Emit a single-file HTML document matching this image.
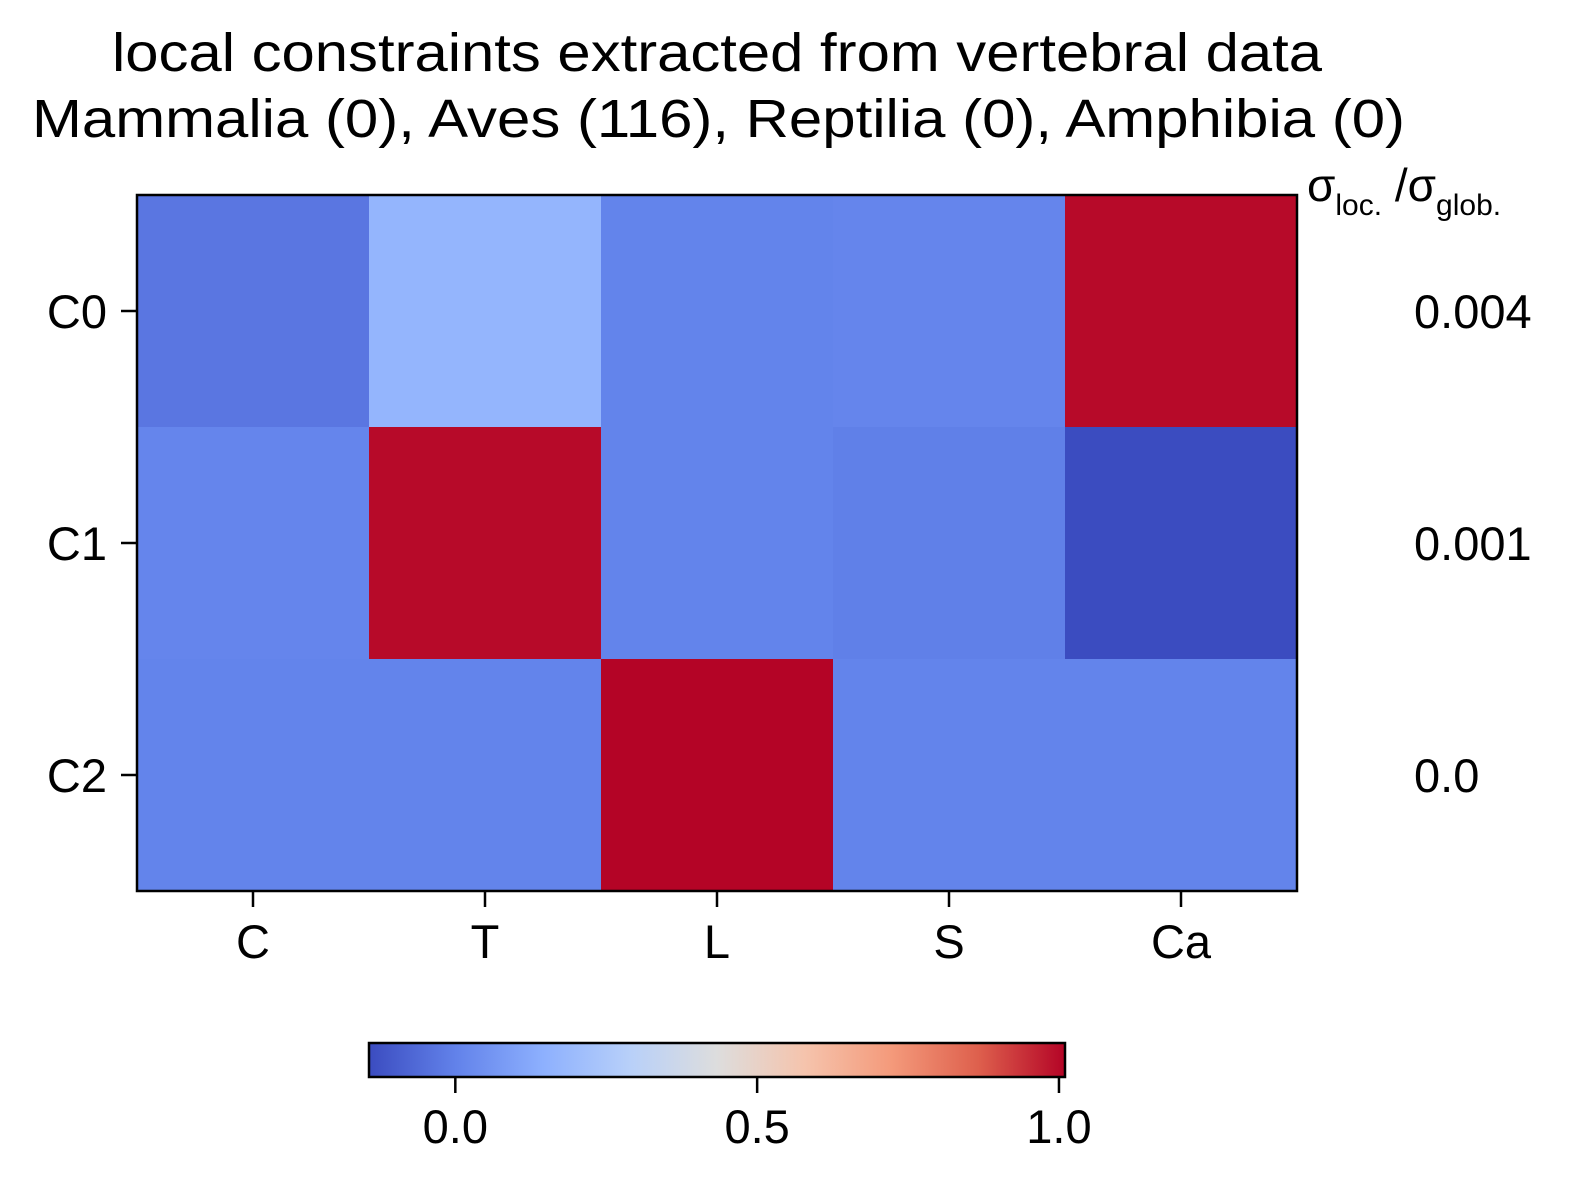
<!DOCTYPE html>
<html><head><meta charset="utf-8"><style>
body{margin:0;background:#fff}
text{font-family:"Liberation Sans",sans-serif;fill:#000}
</style></head><body>
<svg id="chart" width="1570" height="1184" xmlns="http://www.w3.org/2000/svg">
<defs>
<linearGradient id="cw" x1="0" x2="1" y1="0" y2="0">
<stop offset="0" stop-color="rgb(59,76,192)"/><stop offset="0.125" stop-color="rgb(98,130,234)"/>
<stop offset="0.25" stop-color="rgb(141,176,254)"/><stop offset="0.375" stop-color="rgb(184,208,249)"/>
<stop offset="0.5" stop-color="rgb(221,221,221)"/><stop offset="0.625" stop-color="rgb(245,196,173)"/>
<stop offset="0.75" stop-color="rgb(244,154,123)"/><stop offset="0.875" stop-color="rgb(222,96,77)"/>
<stop offset="1" stop-color="rgb(180,4,38)"/>
</linearGradient></defs>
<text x="112" y="71" font-size="54" textLength="1210" lengthAdjust="spacingAndGlyphs">local constraints extracted from vertebral data</text>
<text x="32" y="137" font-size="54" textLength="1373" lengthAdjust="spacingAndGlyphs">Mammalia (0), Aves (116), Reptilia (0), Amphibia (0)</text>
<text x="1307" y="201" font-size="46">σ<tspan font-size="30" dy="14">loc.</tspan><tspan dy="-14"> /σ</tspan><tspan font-size="30" dy="14">glob.</tspan></text>
<g id="cells"></g>
<rect x="137" y="195" width="1160" height="696" fill="none" stroke="#000" stroke-width="2.5"/>
<g id="axes"></g>
<rect x="369" y="1043" width="696" height="34" fill="url(#cw)" stroke="#000" stroke-width="2.5"/>
<g id="cbticks"></g>
</svg>
<script>
const cols = ["C","T","L","S","Ca"];
const rows = ["C0","C1","C2"];
const values = [
  [-0.03, 0.17, 0.006, 0.012, 1.0],
  [0.012, 1.0, 0.006, -0.005, -0.143],
  [0.006, 0.006, 1.01, 0.006, 0.006]
];
const ratios = ["0.004","0.001","0.0"];
const cbTicks = [0.0, 0.5, 1.0];
const cbLabels = ["0.0","0.5","1.0"];
const vmin = -0.143, vmax = 1.01;
const NS="http://www.w3.org/2000/svg";
const X0=137,Y0=195,W=1160,H=696;
const cw=W/cols.length, rh=H/rows.length;
const xc=i=>X0+cw*(i+0.5), yc=j=>Y0+rh*(j+0.5);
const stops=[[0,[59,76,192]],[0.125,[98,130,234]],[0.25,[141,176,254]],[0.375,[184,208,249]],[0.5,[221,221,221]],[0.625,[245,196,173]],[0.75,[244,154,123]],[0.875,[222,96,77]],[1,[180,4,38]]];
function cmap(v){let t=Math.max(0,Math.min(1,(v-vmin)/(vmax-vmin)));
 for(let k=1;k<stops.length;k++){if(t<=stops[k][0]){const a=stops[k-1],b=stops[k],f=(t-a[0])/(b[0]-a[0]);
  return "rgb("+a[1].map((c,i)=>Math.round(c+(b[1][i]-c)*f)).join(",")+")";}}return "rgb(180,4,38)";}
function el(tag,attrs,parent,txt){const e=document.createElementNS(NS,tag);for(const k in attrs)e.setAttribute(k,attrs[k]);if(txt!==undefined)e.textContent=txt;parent.appendChild(e);return e;}
const cells=document.getElementById("cells"), axes=document.getElementById("axes"), cb=document.getElementById("cbticks");
rows.forEach((r,j)=>{cols.forEach((c,i)=>{
 const e=el("rect",{x:X0+cw*i,y:Y0+rh*j,width:cw+0.5,height:rh+0.5,fill:cmap(values[j][i])},cells);
 
 
});
 const t=el("text",{x:107,y:yc(j)+17,"font-size":47,"text-anchor":"end"},axes,r);
 
 
 el("line",{x1:121,x2:137,y1:yc(j),y2:yc(j),stroke:"#000","stroke-width":2.5},axes);
 const a=el("text",{x:1414,y:yc(j)+17,"font-size":47},axes,ratios[j]);
 
 
});
cols.forEach((c,i)=>{
 el("line",{x1:xc(i),x2:xc(i),y1:891,y2:907,stroke:"#000","stroke-width":2.5},axes);
 const t=el("text",{x:xc(i),y:958,"font-size":47,"text-anchor":"middle"},axes,c);
 
 
});
const cbx=v=>369+(v-vmin)/(vmax-vmin)*696;
cbTicks.forEach((v,k)=>{
 el("line",{x1:cbx(v),x2:cbx(v),y1:1077,y2:1093,stroke:"#000","stroke-width":2.5},cb);
 const t=el("text",{x:cbx(v),y:1143,"font-size":47,"text-anchor":"middle"},cb,cbLabels[k]);
 
 
});
</script>
</body></html>
